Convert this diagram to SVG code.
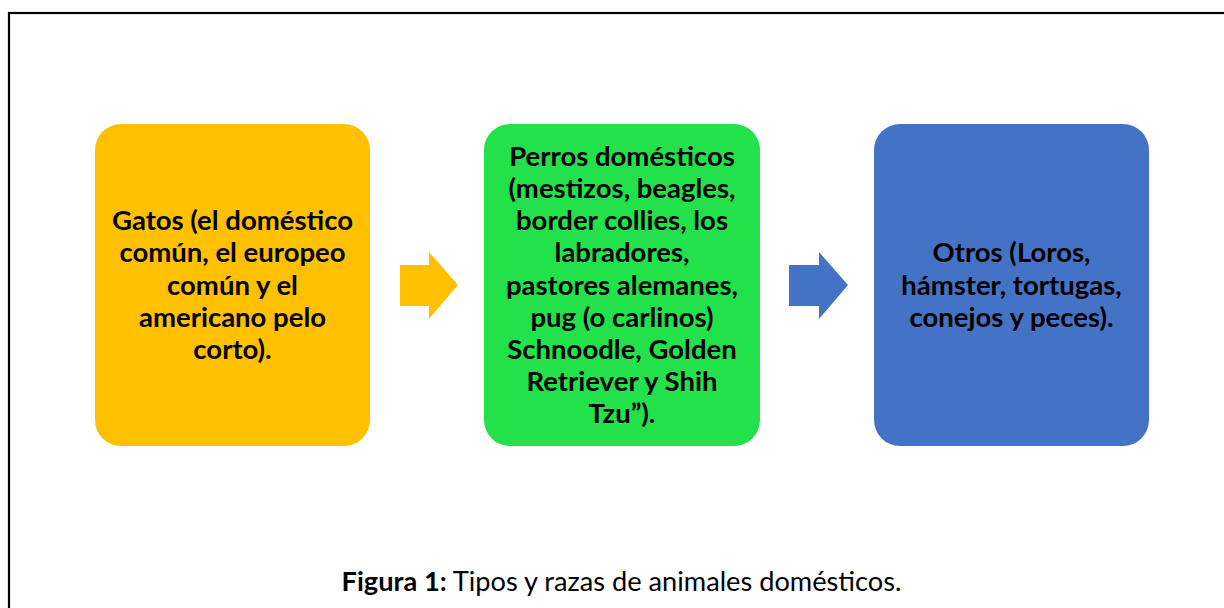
<svg xmlns="http://www.w3.org/2000/svg" width="1224" height="608" viewBox="0 0 1224 608">
<style>
.t{font-family:Lato,"Open Sans","Liberation Sans",sans-serif;font-weight:700;font-size:27.5px;fill:#000;text-anchor:middle}
.cap{font-family:Lato,"Open Sans","Liberation Sans",sans-serif;font-size:27.2px;fill:#000}
</style>
<rect width="1224" height="608" fill="#fff"/>
<rect x="9" y="13" width="1240" height="620" fill="none" stroke="#000" stroke-width="2.2"/>
<g id="node-gatos">
<rect x="95" y="124" width="275" height="322" rx="26" fill="#FFC000"/>
<text class="t" x="232.5"><tspan x="232.5" y="230.1">Gatos (el doméstico</tspan><tspan x="232.5" y="262.3">común, el europeo</tspan><tspan x="232.5" y="294.5">común y el</tspan><tspan x="232.5" y="326.7">americano pelo</tspan><tspan x="232.5" y="358.9">corto).</tspan></text>
</g>
<g id="node-perros">
<rect x="484" y="124" width="276" height="322" rx="26" fill="#22E14B"/>
<text class="t"><tspan x="622" y="165.7">Perros domésticos</tspan><tspan x="622" y="197.9">(mestizos, beagles,</tspan><tspan x="622" y="230.1">border collies, los</tspan><tspan x="622" y="262.3">labradores,</tspan><tspan x="622" y="294.5">pastores alemanes,</tspan><tspan x="622" y="326.7">pug (o carlinos)</tspan><tspan x="622" y="358.9">Schnoodle, Golden</tspan><tspan x="622" y="391.1">Retriever y Shih</tspan><tspan x="622" y="423.3">Tzu”).</tspan></text>
</g>
<g id="node-otros">
<rect x="874" y="124" width="275" height="322" rx="26" fill="#4472C4"/>
<text class="t"><tspan x="1011.5" y="262.3">Otros (Loros,</tspan><tspan x="1011.5" y="294.5">hámster, tortugas,</tspan><tspan x="1011.5" y="326.7">conejos y peces).</tspan></text>
</g>
<g id="connectors">
<polygon points="400,265 429,265 429,252 458,285 429,319 429,306 400,306" fill="#FFC000"/>
<polygon points="789,265 819,265 819,252 848,285 819,319 819,306 789,306" fill="#4472C4"/>
</g>
<text class="cap" x="621.5" y="591" text-anchor="middle"><tspan font-weight="700">Figura 1:</tspan> Tipos y razas de animales domésticos.</text>
</svg>
